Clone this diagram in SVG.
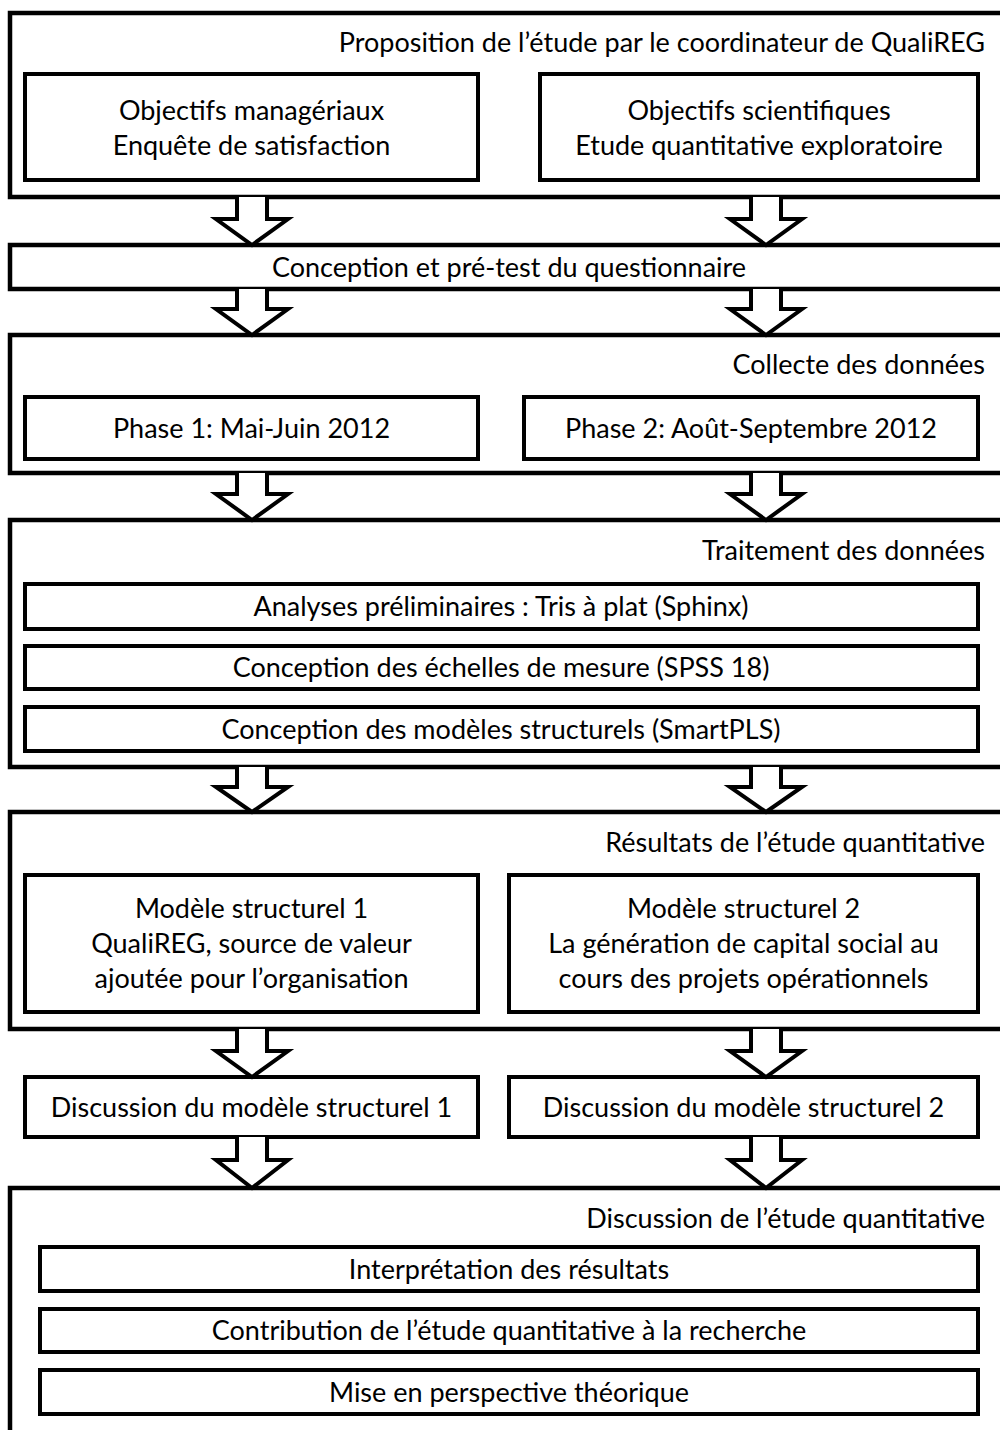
<svg xmlns="http://www.w3.org/2000/svg" width="1000" height="1430" viewBox="0 0 1000 1430">
<style>
.outer{fill:none;stroke:#000;stroke-width:4.5}
.box{fill:#fff;stroke:#000;stroke-width:4}
.arr{fill:#fff;stroke:#000;stroke-width:4;stroke-linejoin:miter}
text{font-family:Lato,"Open Sans","Liberation Sans",sans-serif;font-size:27px;fill:#000}
.c{text-anchor:middle}
.r{text-anchor:end}
</style>
<rect x="0" y="0" width="1000" height="1430" fill="#fff"/>

<g id="proposition">
<path class="outer" d="M1002,13 H10 V197 H1002"/>
<text class="r" x="985" y="52">Proposition de l’étude par le coordinateur de QualiREG</text>
</g>
<g id="obj-manag">
<rect class="box" x="25" y="74" width="453" height="106"/>
<text class="c" x="251.5" y="120">Objectifs managériaux</text>
<text class="c" x="251.5" y="155">Enquête de satisfaction</text>
</g>
<g id="obj-scient">
<rect class="box" x="540" y="74" width="438" height="106"/>
<text class="c" x="759" y="120">Objectifs scientifiques</text>
<text class="c" x="759" y="155">Etude quantitative exploratoire</text>
</g>

<g id="conception">
<path class="outer" d="M1002,245 H10 V289 H1002"/>
<text class="c" x="509" y="277">Conception et pré-test du questionnaire</text>
</g>

<g id="collecte">
<path class="outer" d="M1002,335 H10 V473 H1002"/>
<text class="r" x="985" y="374">Collecte des données</text>
</g>
<g id="phase1">
<rect class="box" x="25" y="397" width="453" height="62"/>
<text class="c" x="251.5" y="438">Phase 1: Mai-Juin 2012</text>
</g>
<g id="phase2">
<rect class="box" x="524" y="397" width="454" height="62"/>
<text class="c" x="751" y="438">Phase 2: Août-Septembre 2012</text>
</g>

<g id="traitement">
<path class="outer" d="M1002,520 H10 V767 H1002"/>
<text class="r" x="985" y="560">Traitement des données</text>
</g>
<g id="analyses">
<rect class="box" x="25" y="584" width="953" height="45"/>
<text class="c" x="501" y="616">Analyses préliminaires : Tris à plat (Sphinx)</text>
</g>
<g id="echelles">
<rect class="box" x="25" y="646" width="953" height="43"/>
<text class="c" x="501" y="677">Conception des échelles de mesure  (SPSS 18)</text>
</g>
<g id="modeles">
<rect class="box" x="25" y="707" width="953" height="44"/>
<text class="c" x="501" y="739">Conception des modèles structurels (SmartPLS)</text>
</g>

<g id="resultats">
<path class="outer" d="M1002,812 H10 V1029 H1002"/>
<text class="r" x="985" y="852">Résultats de l’étude quantitative</text>
</g>
<g id="modele1">
<rect class="box" x="25" y="875" width="453" height="137"/>
<text class="c" x="251.5" y="918">Modèle structurel 1</text>
<text class="c" x="251.5" y="953">QualiREG, source de valeur</text>
<text class="c" x="251.5" y="988">ajoutée pour l’organisation</text>
</g>
<g id="modele2">
<rect class="box" x="509" y="875" width="469" height="137"/>
<text class="c" x="743.5" y="918">Modèle structurel 2</text>
<text class="c" x="743.5" y="953">La génération de capital social au</text>
<text class="c" x="743.5" y="988">cours des projets opérationnels</text>
</g>

<g id="discussion1">
<rect class="box" x="25" y="1077" width="453" height="60"/>
<text class="c" x="251.5" y="1117">Discussion du modèle structurel 1</text>
</g>
<g id="discussion2">
<rect class="box" x="509" y="1077" width="469" height="60"/>
<text class="c" x="743.5" y="1117">Discussion du modèle structurel 2</text>
</g>

<g id="discussion-etude">
<path class="outer" d="M1002,1188 H10 V1432"/>
<text class="r" x="985" y="1228">Discussion de l’étude quantitative</text>
</g>
<g id="interpretation">
<rect class="box" x="40" y="1247" width="938" height="44"/>
<text class="c" x="509" y="1279">Interprétation des résultats</text>
</g>
<g id="contribution">
<rect class="box" x="40" y="1309" width="938" height="43"/>
<text class="c" x="509" y="1340">Contribution de l’étude quantitative à la recherche</text>
</g>
<g id="perspective">
<rect class="box" x="40" y="1370" width="938" height="44"/>
<text class="c" x="509" y="1402">Mise en perspective théorique</text>
</g>

<g id="connectors">
<path class="arr" d="M237,197 V219 H216 L252,245 L288,219 H267 V197"/>
<path class="arr" d="M751,197 V219 H730 L766,245 L802,219 H781 V197"/>
<path class="arr" d="M237,289 V309 H216 L252,335 L288,309 H267 V289"/>
<path class="arr" d="M751,289 V309 H730 L766,335 L802,309 H781 V289"/>
<path class="arr" d="M237,473 V494 H216 L252,520 L288,494 H267 V473"/>
<path class="arr" d="M751,473 V494 H730 L766,520 L802,494 H781 V473"/>
<path class="arr" d="M237,767 V787 H216 L252,812 L288,787 H267 V767"/>
<path class="arr" d="M751,767 V787 H730 L766,812 L802,787 H781 V767"/>
<path class="arr" d="M237,1029 V1051 H216 L252,1077 L288,1051 H267 V1029"/>
<path class="arr" d="M751,1029 V1051 H730 L766,1077 L802,1051 H781 V1029"/>
<path class="arr" d="M237,1137 V1160 H216 L252,1188 L288,1160 H267 V1137"/>
<path class="arr" d="M751,1137 V1160 H730 L766,1188 L802,1160 H781 V1137"/>
</g>
</svg>
